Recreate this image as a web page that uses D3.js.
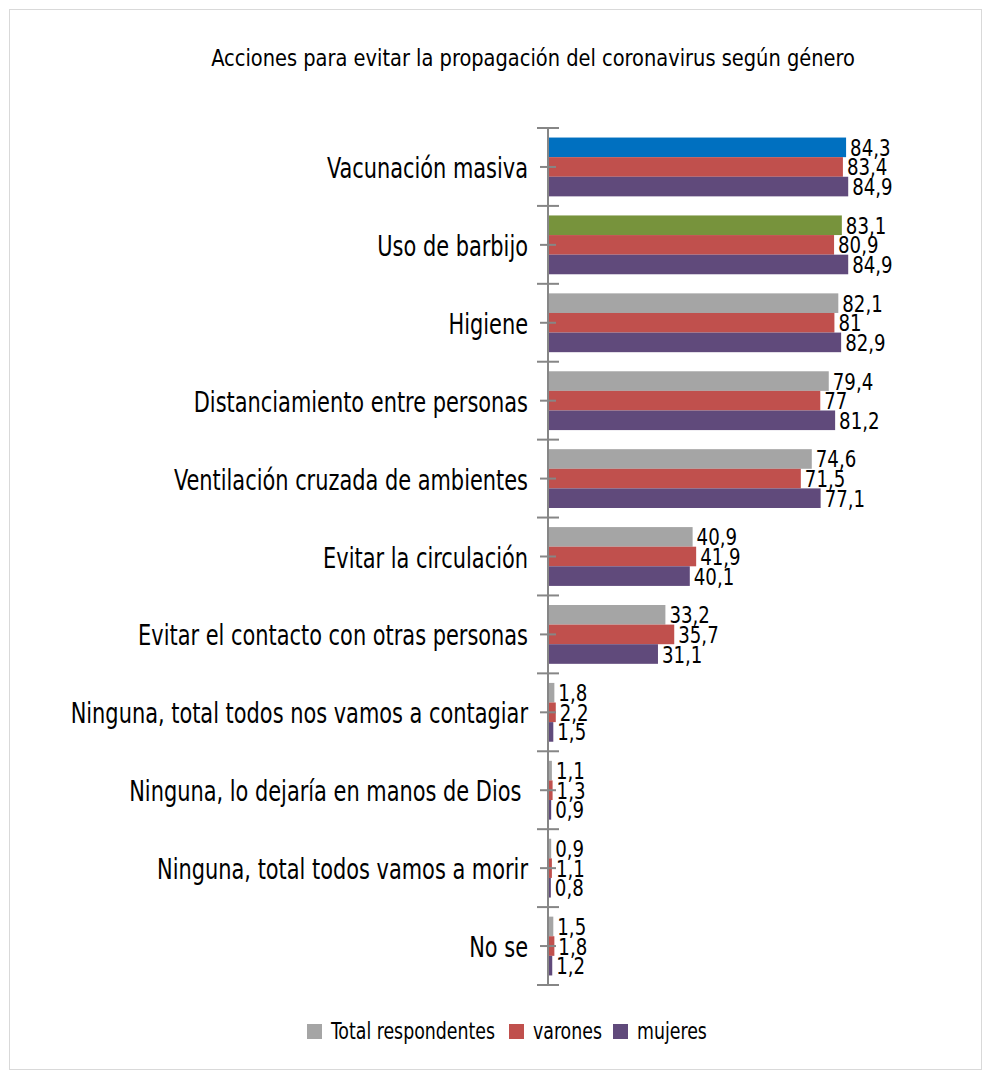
<!DOCTYPE html>
<html><head><meta charset="utf-8">
<script src="https://cdn.jsdelivr.net/npm/d3@7"></script>
<style>
body{margin:0;background:#fff;}
text{font-family:"DejaVu Sans Condensed","Liberation Sans Narrow","Arial Narrow",sans-serif;fill:#000;}
</style></head><body>
<svg id="c" width="991" height="1079"></svg>
<script>
const categories = ["Vacunación masiva","Uso de barbijo","Higiene","Distanciamiento entre personas","Ventilación cruzada de ambientes","Evitar la circulación","Evitar el contacto con otras personas","Ninguna, total todos nos vamos a contagiar","Ninguna, lo dejaría en manos de Dios ","Ninguna, total todos vamos a morir","No se"];
const seriesNames = ["Total respondentes","varones","mujeres"];
const total = [84.3,83.1,82.1,79.4,74.6,40.9,33.2,1.8,1.1,0.9,1.5];
const varones = [83.4,80.9,81,77,71.5,41.9,35.7,2.2,1.3,1.1,1.8];
const mujeres = [84.9,84.9,82.9,81.2,77.1,40.1,31.1,1.5,0.9,0.8,1.2];
const seriesColors = ["#A5A5A5","#C0504D","#604A7B"];
const totalPointColors = {0:"#0070C0",1:"#77933C"};
const title = "Acciones para evitar la propagación del coronavirus según género";

(function(){
const svg = d3.select("#c");
function txt(parent, x, y, s, size, sx, anchor){
  return parent.append("text").attr("transform",`translate(${x},${y}) scale(${sx},1)`)
    .attr("text-anchor",anchor||"start").style("font-size",size+"px").style("white-space","pre").text(s);
}
svg.append("rect").attr("x",9.5).attr("y",9.5).attr("width",972).attr("height",1060)
  .attr("fill","#fff").attr("stroke","#D9D9D9").attr("stroke-width",1);

txt(svg, 533, 66, title, 22.5, 0.96, "middle");

const x0 = 548, yTop = 128, yBot = 985;
const x = d3.scaleLinear().domain([0,100]).range([x0, x0+353.6]);
const y = d3.scaleBand().domain(categories).range([yTop,yBot]).paddingInner(0.245).paddingOuter(0.1225);
const ySub = d3.scaleBand().domain(seriesNames).range([0,y.bandwidth()]);
const step = y.step();

const data = [total,varones,mujeres];
const g = svg.append("g");
categories.forEach((c,i)=>{
  seriesNames.forEach((s,j)=>{
    const v = data[j][i];
    let col = seriesColors[j];
    if(j===0 && totalPointColors[i]) col = totalPointColors[i];
    const yy = y(c)+ySub(s);
    g.append("rect").attr("x",x(0)).attr("y",yy).attr("width",x(v)-x(0)).attr("height",ySub.bandwidth()).attr("fill",col);
    txt(g, x(v)+4, yy+ySub.bandwidth()/2+8.5, String(v).replace(".",","), 23.5, 0.86);
  });
});

const ax = svg.append("g");
ax.append("line").attr("x1",x0).attr("x2",x0).attr("y1",yTop).attr("y2",yBot).attr("stroke","#868686").attr("stroke-width",2);
for(let i=0;i<=categories.length;i++){
  const yy = yTop + i*step;
  ax.append("line").attr("x1",x0-11).attr("x2",x0+11).attr("y1",yy).attr("y2",yy).attr("stroke","#868686").attr("stroke-width",2);
}
categories.forEach(c=>{
  const yy = y(c)+y.bandwidth()/2;
  ax.append("line").attr("x1",x0-8).attr("x2",x0+8).attr("y1",yy).attr("y2",yy).attr("stroke","#868686").attr("stroke-width",2);
  txt(ax, x0-20, yy+11, c, 28, 0.83, "end");
});

const legX = [307,509,613];
seriesNames.forEach((s,j)=>{
  svg.append("rect").attr("x",legX[j]).attr("y",1024).attr("width",15).attr("height",15).attr("fill",seriesColors[j]);
  txt(svg, legX[j]+24, 1039, s, 23, 0.84);
});
})();
</script></body></html>
